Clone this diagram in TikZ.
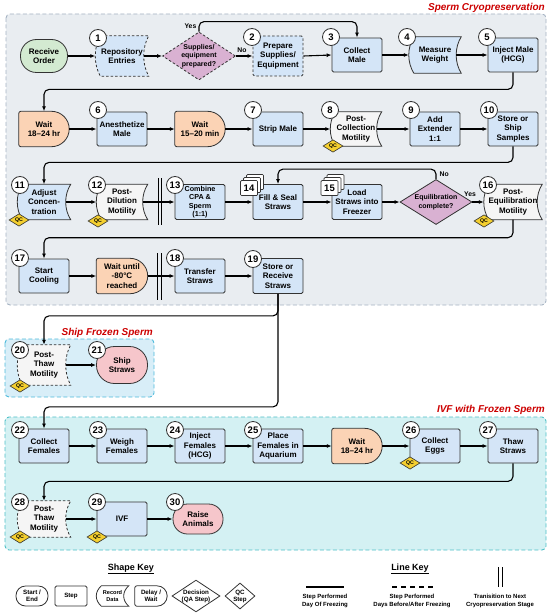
\documentclass[tikz,border=0pt]{standalone}
\usepackage{fontspec}
\setmainfont{Liberation Sans}
\usetikzlibrary{shapes.geometric,arrows.meta,calc}
\definecolor{edgec}{HTML}{333333}
\definecolor{stepc}{HTML}{D4E5F7}
\definecolor{delayc}{HTML}{FBD3B5}
\definecolor{greenc}{HTML}{D3EAD1}
\definecolor{pinkc}{HTML}{F6C6CB}
\definecolor{decc}{HTML}{D9B1D2}
\definecolor{whitec}{HTML}{F5F5F5}
\definecolor{qcc}{HTML}{F4CF2F}
\definecolor{regA}{HTML}{E9EDF1}
\definecolor{regAb}{HTML}{A5B3C3}
\definecolor{regB}{HTML}{D8EEF8}
\definecolor{regBb}{HTML}{4DBADB}
\definecolor{regC}{HTML}{D4F1F3}
\definecolor{regCb}{HTML}{4CBFC6}
\definecolor{titlec}{HTML}{CC0000}
\pgfdeclarelayer{bg}
\pgfdeclarelayer{shp}
\pgfsetlayers{bg,shp,main}
% record-data shape around a plain node
\newcommand\recshape[3][]{%
\begin{pgfonlayer}{shp}
\path[draw=edgec, line width=0.8pt, fill=#3, #1]
 let \p1=(#2.north west), \p2=(#2.south east), \n1={\y1-\y2} in
 ({\x1+5pt},\y1) -- (\x2,\y1)
 .. controls ({\x2-6.7pt},{\y1-0.3*\n1}) and ({\x2-6.7pt},{\y2+0.3*\n1}) .. (\x2,\y2)
 -- ({\x1+5pt},\y2)
 .. controls ({\x1-1.7pt},{\y2+0.3*\n1}) and ({\x1-1.7pt},{\y1-0.3*\n1}) .. ({\x1+5pt},\y1) -- cycle;
\end{pgfonlayer}}
% delay shape around a plain node
\newcommand\delayshape[2]{%
\begin{pgfonlayer}{shp}
\path[draw=edgec, line width=0.8pt, fill=#2]
 let \p1=(#1.north west), \p2=(#1.south east), \n1={(\y1-\y2)/2} in
 ({\x2-\n1*1pt},\y1) arc[start angle=90, end angle=-90, radius={\n1*1pt}]
 -- ({\x1+2pt},\y2) arc[start angle=270, end angle=180, radius=2pt]
 -- (\x1,{\y1-2pt}) arc[start angle=180, end angle=90, radius=2pt] -- cycle;
\end{pgfonlayer}}
\begin{document}
\begin{tikzpicture}[x=1pt,y=-1pt,
 every node/.style={font=\fontsize{8}{9.3}\selectfont\bfseries, align=center, inner sep=1pt, text=black},
 bx/.style={draw=edgec, line width=0.8pt, rounded corners=1.5pt, minimum width=50pt, minimum height=34pt},
 stepbox/.style={bx, fill=stepc},
 dsh/.style={dash pattern=on 2.5pt off 2pt},
 plain/.style={minimum width=50pt, minimum height=35pt},
 term/.style={draw=edgec, line width=0.8pt, rounded corners=16pt, minimum width=47pt, minimum height=33pt},
 decision/.style={diamond, shape aspect=1.5, draw=edgec, line width=0.8pt, fill=decc, inner sep=0pt, font=\fontsize{7}{8.4}\selectfont\bfseries},
 numc/.style={circle, draw=edgec, line width=0.8pt, fill=white, minimum size=17pt, inner sep=0pt, font=\fontsize{9.5}{9.5}\selectfont\bfseries},
 tag/.style={draw=edgec, line width=0.7pt, fill=white, minimum width=17pt, minimum height=15pt, inner sep=0pt, rounded corners=1pt, font=\fontsize{9.5}{9.5}\selectfont\bfseries},
 qc/.style={diamond, draw=edgec, line width=0.6pt, fill=qcc, minimum width=20pt, minimum height=12pt, inner sep=0pt, font=\fontsize{5.2}{5.2}\selectfont\bfseries},
 conn/.style={draw=black, line width=1.1pt, -{Latex[length=5pt,width=4pt]}},
 fromrec/.style={shorten <=-5pt},
 loopc/.style={conn, rounded corners=5pt},
 lbl/.style={font=\fontsize{6.8}{7}\selectfont\bfseries, inner sep=0.5pt},
 bar/.style={line width=1pt},
 ttl/.style={font=\fontsize{10}{11}\selectfont\bfseries\itshape, text=titlec, inner sep=0pt},
 keyh/.style={font=\fontsize{9}{10}\selectfont\bfseries},
 keyt/.style={font=\fontsize{6}{7.3}\selectfont\bfseries},
 keys/.style={font=\fontsize{6.2}{7}\selectfont\bfseries},
]
\useasboundingbox (0,0) rectangle (550,615);
% regions
\begin{pgfonlayer}{bg}
\draw[draw=regAb, fill=regA, line width=0.9pt, dash pattern=on 4pt off 2.5pt, rounded corners=4pt] (6,14) rectangle (546,305);
\draw[draw=regBb, fill=regB, line width=0.9pt, dash pattern=on 4pt off 2.5pt, rounded corners=4pt] (5,339) rectangle (154,397);
\draw[draw=regCb, fill=regC, line width=0.9pt, dash pattern=on 4pt off 2.5pt, rounded corners=4pt] (5,417) rectangle (546,550);
\end{pgfonlayer}
\node[ttl, anchor=east] (ttlA) at (545,8) {Sperm Cryopreservation};
\node[ttl, anchor=east] (ttlB) at (153,333) {Ship Frozen Sperm};
\node[ttl, anchor=east] (ttlC) at (545,410) {IVF with Frozen Sperm};

% ---------- row 1
\node[term, fill=greenc] (start) at (44,56) {Receive\\Order};
\node[plain, minimum width=53pt, minimum height=40pt] (n1) at (122,56) {Repository\\Entries};
\recshape[dsh]{n1}{stepc}
\node[decision, dsh, minimum width=73pt, minimum height=48pt] (d1) at (199,56) {Supplies/\\equipment\\prepared?};
\node[stepbox, dsh, minimum height=40pt] (n2) at (278,56) {Prepare\\Supplies/\\Equipment};
\node[stepbox] (n3) at (357,55) {Collect\\Male};
\node[plain, minimum width=52pt, minimum height=36pt] (n4) at (435,55) {Measure\\Weight};
\recshape{n4}{stepc}
\node[stepbox] (n5) at (513,55) {Inject Male\\(HCG)};

% ---------- row 2
\node[plain] (w1) at (44,129) {Wait\\18–24 hr};
\delayshape{w1}{delayc}
\node[stepbox] (n6) at (122,129) {Anesthetize\\Male};
\node[plain] (w2) at (200,129) {Wait\\15–20 min};
\delayshape{w2}{delayc}
\node[stepbox] (n7) at (278,129) {Strip Male};
\node[plain, minimum width=51pt, minimum height=34pt] (n8) at (356,129) {Post-\\Collection\\Motility};
\recshape{n8}{whitec}
\node[stepbox] (n9) at (435,129) {Add\\Extender\\1:1};
\node[stepbox] (n10) at (513,129) {Store or\\Ship\\Samples};

% ---------- row 3
\node[plain, minimum width=53pt] (n11) at (44,202) {Adjust\\Concen-\\tration};
\recshape{n11}{stepc}
\node[plain, minimum width=51pt] (n12) at (122,202) {Post-\\Dilution\\Motility};
\recshape{n12}{whitec}
\node[stepbox, minimum height=35pt, font=\fontsize{7.2}{8.3}\selectfont\bfseries] (n13) at (200,202) {Combine\\CPA \&\\Sperm\\(1:1)};
\node[stepbox, minimum height=35pt] (n14) at (278,202) {Fill \& Seal\\Straws};
\node[stepbox, minimum height=35pt] (n15) at (357,202) {Load\\Straws into\\Freezer};
\node[decision, minimum width=72pt, minimum height=45pt] (d2) at (436,202) {Equilibration\\complete?};
\node[plain, minimum width=58pt] (n16) at (513,202) {Post-\\Equilibration\\Motility};
\recshape{n16}{whitec}

% ---------- row 4
\node[stepbox] (n17) at (44,276) {Start\\Cooling};
\node[plain, minimum width=51pt] (w3) at (122,276) {Wait until\\-80°C\\reached};
\delayshape{w3}{delayc}
\node[stepbox] (n18) at (200,276) {Transfer\\Straws};
\node[stepbox, minimum height=35pt] (n19) at (278,276) {Store or\\Receive\\Straws};

% ---------- ship
\node[plain, minimum width=53pt, minimum height=40pt] (n20) at (44,365) {Post-\\Thaw\\Motility};
\recshape[dsh]{n20}{whitec}
\node[term, fill=pinkc, minimum width=51pt, minimum height=37pt, rounded corners=18pt] (n21) at (122,365) {Ship\\Straws};

% ---------- IVF row 5
\node[stepbox] (n22) at (44,446) {Collect\\Females};
\node[stepbox] (n23) at (122,446) {Weigh\\Females};
\node[stepbox] (n24) at (200,446) {Inject\\Females\\(HCG)};
\node[stepbox] (n25) at (278,446) {Place\\Females in\\Aquarium};
\node[plain] (w4) at (357,446) {Wait\\18–24 hr};
\delayshape{w4}{delayc}
\node[stepbox] (n26) at (435,446) {Collect\\Eggs};
\node[stepbox] (n27) at (513,446) {Thaw\\Straws};

% ---------- IVF row 6
\node[plain, minimum width=53pt, minimum height=36pt] (n28) at (44,519) {Post-\\Thaw\\Motility};
\recshape[dsh]{n28}{whitec}
\node[stepbox] (n29) at (122,519) {IVF};
\node[term, fill=pinkc, minimum width=50pt, minimum height=30pt, rounded corners=14.5pt] (n30) at (198,519) {Raise\\Animals};

% ---------- connectors
\draw[conn] (start.east) -- (n1.west);
\draw[conn, fromrec] (n1.east) -- (d1.west);
\draw[conn] (d1.east) -- (n2.west);
\node[lbl] (lno1) at (242,50) {No};
\draw[loopc] (d1.north) -- ++(0,-10) -| (n3.north);
\node[lbl, anchor=east] (lyes1) at (197,26) {Yes};
\draw[conn] (n2.east) -- (n3.west);
\draw[conn] (n3.east) -- (n4.west);
\draw[conn, fromrec] (n4.east) -- (n5.west);
\draw[loopc] (n5.south) -- ++(0,17) -| (w1.north);

\draw[conn] (w1.east) -- (n6.west);
\draw[conn] (n6.east) -- (w2.west);
\draw[conn] (w2.east) -- (n7.west);
\draw[conn] (n7.east) -- (n8.west);
\draw[conn, fromrec] (n8.east) -- (n9.west);
\draw[conn] (n9.east) -- (n10.west);
\draw[loopc] (n10.south) -- ++(0,16) -| (n11.north);

\draw[conn, fromrec] (n11.east) -- (n12.west);
\draw[conn, fromrec] (n12.east) -- (n13.west);
\draw[conn] (n13.east) -- (n14.west);
\draw[conn] (n14.east) -- (n15.west);
\draw[conn] (n15.east) -- (d2.west);
\draw[conn] (d2.east) -- (n16.west);
\node[lbl] (lyes2) at (470,194) {Yes};
\draw[loopc] (d2.north) -- ++(0,-10) -| (n14.north);
\node[lbl, anchor=west] (lno2) at (439,174) {No};
\draw[loopc] (n16.south) -- ++(0,18) -| (n17.north);

\draw[conn] (n17.east) -- (w3.west);
\draw[conn] (w3.east) -- (n18.west);
\draw[conn] (n18.east) -- (n19.west);
\draw[loopc] (n19.south) -- ++(0,22) -| (n20.north);
\draw[loopc] (n19.south) -- ++(0,113) -| (n22.north);

\draw[conn, fromrec] (n20.east) -- (n21.west);

\draw[conn] (n22.east) -- (n23.west);
\draw[conn] (n23.east) -- (n24.west);
\draw[conn] (n24.east) -- (n25.west);
\draw[conn] (n25.east) -- (w4.west);
\draw[conn] (w4.east) -- (n26.west);
\draw[conn] (n26.east) -- (n27.west);
\draw[loopc] (n27.south) -- ++(0,18) -| (n28.north);
\draw[conn, fromrec] (n28.east) -- (n29.west);
\draw[conn] (n29.east) -- (n30.west);

% transition bars
\draw[bar] (158,178) -- (158,225) (161.5,178) -- (161.5,225);
\draw[bar] (157.5,253) -- (157.5,300) (161,253) -- (161,300);

% ---------- number circles
\node[numc] (c1) at (98,38) {1};
\node[numc] (c2) at (252,37) {2};
\node[numc] (c3) at (331,37) {3};
\node[numc] (c4) at (407,37) {4};
\node[numc] (c5) at (487,37) {5};
\node[numc] (c6) at (98,110) {6};
\node[numc] (c7) at (253,110) {7};
\node[numc] (c8) at (330,110) {8};
\node[numc] (c9) at (411,110) {9};
\node[numc] (c10) at (489,110) {10};
\node[numc] (c11) at (20,185) {11};
\node[numc] (c12) at (97,185) {12};
\node[numc] (c13) at (175,185) {13};
\node[tag] (t14c) at (255,182) {};
\node[tag] (t14b) at (252,185) {};
\node[tag] (t14) at (249,188) {14};
\node[tag] (t15c) at (335.5,182) {};
\node[tag] (t15b) at (332.5,185) {};
\node[tag] (t15) at (329.5,188) {15};
\node[numc] (c16) at (488,185) {16};
\node[numc] (c17) at (20,258) {17};
\node[numc] (c18) at (175,258) {18};
\node[numc] (c19) at (253,259) {19};
\node[numc] (c20) at (20,350) {20};
\node[numc] (c21) at (97,350) {21};
\node[numc] (c22) at (20,430) {22};
\node[numc] (c23) at (98,430) {23};
\node[numc] (c24) at (175,430) {24};
\node[numc] (c25) at (253,430) {25};
\node[numc] (c26) at (411,430) {26};
\node[numc] (c27) at (488,430) {27};
\node[numc] (c28) at (20,502) {28};
\node[numc] (c29) at (97,502) {29};
\node[numc] (c30) at (175,502) {30};

% ---------- QC markers
\node[qc] (q8) at (333,146) {QC};
\node[qc] (q11) at (19,220) {QC};
\node[qc] (q12) at (98,221) {QC};
\node[qc] (q16) at (484,221) {QC};
\node[qc] (q20) at (20,386) {QC};
\node[qc] (q26) at (410,463) {QC};
\node[qc] (q28) at (20,537) {QC};
\node[qc] (q29) at (97,537) {QC};

% ---------- shape key
\node[keyh] (sk) at (131,569) {\underline{Shape Key}};
\node[term, fill=white, keys, minimum width=32pt, minimum height=20pt, rounded corners=9.5pt] (ks1) at (32,596) {Start /\\End};
\node[bx, fill=white, keys, minimum width=32pt, minimum height=20pt] (ks2) at (71,596) {Step};
\node[plain, keys, font=\fontsize{5.6}{6.6}\selectfont\bfseries, minimum width=32pt, minimum height=20pt] (ks3) at (112.5,596) {Record\\Data};
\recshape{ks3}{white}
\node[plain, keys, minimum width=32pt, minimum height=20pt] (ks4) at (151,596) {Delay /\\Wait};
\delayshape{ks4}{white}
\node[decision, fill=white, keys, minimum width=48pt, minimum height=31pt] (ks5) at (196,596) {Decision\\(QA Step)};
\node[diamond, draw=edgec, line width=0.8pt, fill=white, keys, inner sep=0pt, minimum width=30pt, minimum height=17pt] (ks6) at (240,596) {QC\\Step};

% ---------- line key
\node[keyh] (lk) at (410,569) {\underline{Line Key}};
\draw[line width=1.3pt] (306,587) -- (344,587);
\node[keyt] (lk1) at (325,601) {Step Performed\\Day Of Freezing};
\draw[line width=1.3pt, dash pattern=on 5pt off 4pt] (392,587) -- (433,587);
\node[keyt] (lk2) at (412,601) {Step Performed\\Days Before/After Freezing};
\draw[bar] (498.5,567) -- (498.5,587) (502,567) -- (502,587);
\node[keyt] (lk3) at (500,601) {Tranisition to Next\\Cryopreservation Stage};
\end{tikzpicture}
\end{document}
